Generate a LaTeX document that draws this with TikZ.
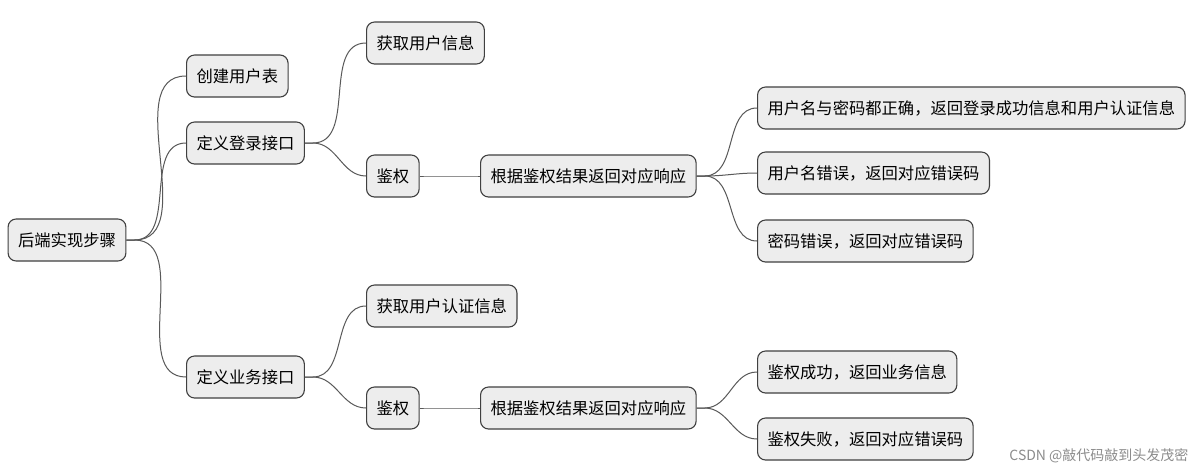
\documentclass[tikz,border=0pt]{standalone}
\usepackage{fontspec}
\newfontfamily\cjk{Noto Sans CJK SC}
\usetikzlibrary{positioning}
\tikzset{
	stepbox/.style={draw=black!75,fill=black!7,rounded corners=8pt,line width=1.1pt,minimum height=42pt,inner xsep=10pt,font=\cjk\fontsize{16.3}{18}\selectfont},
	branch/.style={draw=black!65,line width=1pt}
}
\begin{document}
\begin{tikzpicture}[x=1pt,y=-1pt]
	\useasboundingbox[fill=white] (0,0) rectangle (1197,472);
	\node[stepbox] (root) at (67,240) {后端实现步骤};
	\node[stepbox,anchor=west] (table) at (186,76) {创建用户表};
	\node[stepbox,anchor=west] (login) at (186,143) {定义登录接口};
	\node[stepbox,anchor=west] (biz) at (186,377) {定义业务接口};
	\node[stepbox,anchor=west] (info) at (366,43) {获取用户信息};
	\node[stepbox,anchor=west] (authA) at (366,176) {鉴权};
	\node[stepbox,anchor=west] (respA) at (480,176) {根据鉴权结果返回对应响应};
	\node[stepbox,anchor=west] (ok) at (757,108) {用户名与密码都正确，返回登录成功信息和用户认证信息};
	\node[stepbox,anchor=west] (nameerr) at (757,173) {用户名错误，返回对应错误码};
	\node[stepbox,anchor=west] (pwderr) at (757,241) {密码错误，返回对应错误码};
	\node[stepbox,anchor=west] (cert) at (366,306) {获取用户认证信息};
	\node[stepbox,anchor=west] (authB) at (366,408) {鉴权};
	\node[stepbox,anchor=west] (respB) at (480,408) {根据鉴权结果返回对应响应};
	\node[stepbox,anchor=west] (pass) at (757,372) {鉴权成功，返回业务信息};
	\node[stepbox,anchor=west] (fail) at (757,439) {鉴权失败，返回对应错误码};
	\node[text=black!45,font=\cjk\fontsize{14}{16}\selectfont,anchor=east] (mark) at (1192,456) {CSDN @敲代码敲到头发茂密};
	% connectors
	\foreach \a/\b in {root/table,root/login,root/biz,login/info,login/authA,authA/respA,
		respA/ok,respA/nameerr,respA/pwderr,biz/cert,biz/authB,authB/respB,respB/pass,respB/fail}
		\draw[branch] (\a.east) -- ++(8,0) to[out=0,in=180] (\b.west);
\end{tikzpicture}
\end{document}
